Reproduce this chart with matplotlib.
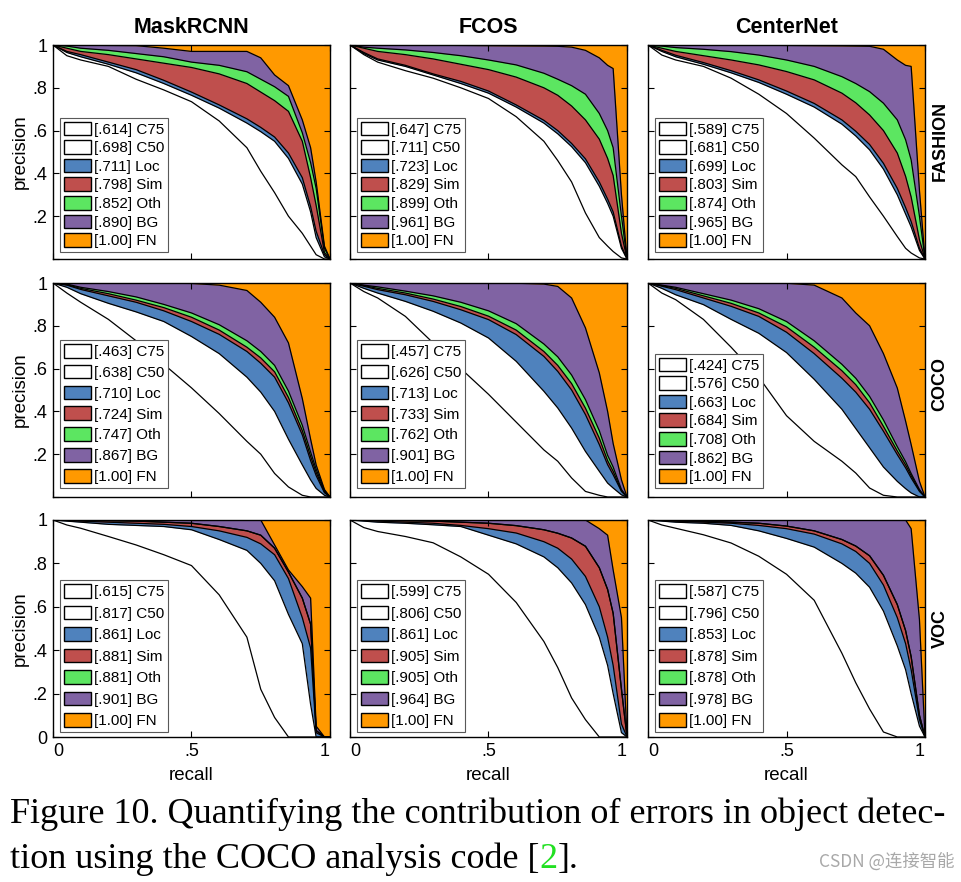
import matplotlib.pyplot as plt
from matplotlib.patches import Patch

plt.rcParams['font.family'] = ['Liberation Sans', 'DejaVu Sans']

recall = [0, .05, .1, .2, .3, .4, .5, .6, .7, .75, .8, .85, .9, .93, .95, .98, 1]

detectors = ['MaskRCNN', 'FCOS', 'CenterNet']
datasets = ['FASHION', 'COCO', 'VOC']
error_types = ['C75', 'C50', 'Loc', 'Sim', 'Oth', 'BG', 'FN']
colors = ['white', 'white', (.31, .51, .74), (.75, .31, .30),
          (.36, .90, .38), (.50, .39, .64), (1, .6, 0)]

# precision curves per panel: C75, C50, Loc, Sim, Oth, BG  (FN is 1 everywhere)
fashion_maskrcnn = [
    [1, .95, .93, .90, .84, .79, .735, .645, .52, .41, .31, .20, .12, .06, .02, 0, 0],
    [1, .965, .945, .91, .87, .82, .765, .705, .635, .595, .55, .47, .35, .22, .10, .01, 0],
    [1, .97, .955, .92, .885, .835, .78, .72, .655, .615, .57, .495, .38, .245, .13, .02, 0],
    [1, .985, .97, .955, .935, .915, .895, .865, .82, .78, .74, .69, .55, .38, .25, .03, 0],
    [1, .995, .985, .975, .96, .945, .92, .905, .875, .84, .805, .76, .59, .45, .33, .05, 0],
    [1, 1, .999, .998, .997, .985, .97, .97, .97, .94, .86, .81, .65, .52, .36, .06, 0],
]
fashion_fcos = [
    [1, .955, .92, .88, .845, .80, .75, .665, .55, .46, .36, .215, .10, .06, .035, .005, 0],
    [1, .96, .93, .90, .86, .82, .775, .71, .635, .585, .525, .45, .34, .26, .20, .05, 0],
    [1, .965, .935, .905, .865, .83, .785, .72, .648, .60, .54, .468, .36, .28, .22, .06, 0],
    [1, .985, .97, .955, .935, .91, .885, .85, .80, .765, .715, .65, .56, .47, .39, .12, 0],
    [1, .99, .985, .977, .965, .95, .93, .907, .868, .84, .81, .77, .68, .60, .52, .20, 0],
    [1, 1, 1, 1, .999, .998, .997, .996, .995, .994, .99, .975, .94, .905, .89, .30, 0],
]
fashion_centernet = [
    [1, .953, .93, .90, .845, .77, .68, .565, .44, .385, .29, .20, .105, .05, .028, .005, 0],
    [1, .97, .945, .91, .87, .825, .77, .71, .63, .575, .51, .42, .30, .21, .15, .04, 0],
    [1, .975, .952, .918, .88, .837, .785, .727, .65, .597, .535, .447, .33, .24, .175, .05, 0],
    [1, .985, .97, .95, .93, .907, .876, .837, .775, .73, .673, .60, .495, .386, .29, .09, 0],
    [1, .995, .988, .98, .969, .953, .93, .90, .852, .82, .782, .728, .65, .557, .463, .20, 0],
    [1, 1, 1, 1, 1, .999, .998, .997, .996, .995, .994, .98, .93, .905, .90, .32, 0],
]
coco_maskrcnn = [
    [1, .953, .91, .83, .73, .62, .51, .39, .26, .20, .11, .047, .008, 0, 0, 0, 0],
    [1, .98, .95, .905, .865, .82, .75, .67, .56, .49, .40, .27, .15, .08, .04, .008, 0],
    [1, .99, .97, .94, .91, .87, .82, .76, .68, .625, .56, .44, .29, .17, .10, .02, 0],
    [1, .992, .975, .95, .92, .885, .84, .78, .70, .65, .585, .465, .31, .19, .115, .025, 0],
    [1, .995, .98, .96, .935, .90, .86, .805, .73, .68, .615, .495, .335, .21, .13, .03, 0],
    [1, 1, 1, 1, 1, .999, .998, .99, .965, .91, .84, .72, .46, .27, .15, .035, 0],
]
coco_fcos = [
    [1, .96, .93, .844, .72, .60, .48, .35, .22, .167, .089, .026, .008, 0, 0, 0, 0],
    [1, .975, .953, .914, .868, .813, .743, .634, .494, .416, .322, .213, .12, .065, .042, .01, 0],
    [1, .985, .969, .945, .914, .875, .829, .759, .657, .587, .50, .385, .245, .151, .104, .026, 0],
    [1, .988, .975, .953, .925, .89, .845, .78, .68, .615, .53, .415, .275, .17, .12, .03, 0],
    [1, .99, .982, .962, .94, .91, .87, .81, .715, .655, .57, .455, .31, .195, .14, .035, 0],
    [1, 1, 1, 1, 1, 1, .999, .999, .995, .984, .93, .79, .58, .40, .25, .08, 0],
]
coco_centernet = [
    [1, .953, .922, .83, .70, .56, .38, .26, .167, .112, .042, .008, 0, 0, 0, 0, 0],
    [1, .975, .945, .899, .83, .765, .675, .55, .41, .32, .23, .14, .073, .039, .019, 0, 0],
    [1, .985, .969, .93, .891, .844, .77, .67, .555, .49, .41, .307, .198, .136, .089, .026, 0],
    [1, .988, .975, .94, .905, .86, .795, .70, .59, .525, .44, .33, .215, .15, .10, .03, 0],
    [1, .99, .98, .95, .92, .88, .82, .73, .62, .555, .47, .36, .235, .165, .11, .035, 0],
    [1, 1, 1, 1, 1, 1, .999, .99, .93, .86, .80, .67, .509, .354, .245, .073, 0],
]
voc_maskrcnn = [
    [1, .977, .962, .924, .885, .84, .79, .655, .46, .22, .09, 0, 0, 0, 0, 0, 0],
    [1, .995, .99, .98, .975, .97, .955, .91, .86, .80, .72, .565, .43, .15, 0, 0, 0],
    [1, .998, .995, .99, .985, .98, .97, .95, .92, .89, .84, .73, .55, .41, .02, 0, 0],
    [1, .999, .998, .997, .995, .99, .985, .97, .95, .93, .87, .76, .64, .52, .03, 0, 0],
    [1, .999, .998, .997, .995, .99, .985, .97, .95, .93, .87, .76, .64, .52, .03, 0, 0],
    [1, 1, 1, 1, 1, 1, 1, 1, 1, 1, .885, .77, .693, .64, .05, 0, 0],
]
voc_fcos = [
    [1, .965, .947, .924, .895, .83, .75, .62, .44, .32, .18, .08, 0, 0, 0, 0, 0],
    [1, .995, .99, .985, .978, .97, .93, .89, .83, .78, .71, .61, .46, .33, .20, .02, 0],
    [1, .998, .995, .99, .985, .975, .96, .94, .90, .87, .82, .74, .60, .46, .33, .06, 0],
    [1, .999, .998, .997, .995, .99, .985, .974, .955, .939, .917, .879, .78, .68, .57, .22, 0],
    [1, .999, .998, .997, .995, .99, .985, .974, .955, .939, .917, .879, .78, .68, .57, .22, 0],
    [1, 1, 1, 1, 1, 1, 1, 1, 1, 1, 1, 1, .96, .93, .77, .55, 0],
]
voc_centernet = [
    [1, .977, .962, .932, .894, .833, .75, .63, .386, .25, .129, .023, 0, 0, 0, 0, 0],
    [1, .995, .99, .985, .975, .95, .915, .875, .80, .755, .69, .58, .42, .31, .20, .05, 0],
    [1, .998, .995, .99, .985, .975, .96, .935, .89, .855, .80, .70, .55, .43, .31, .08, 0],
    [1, .999, .997, .994, .99, .985, .972, .95, .91, .88, .835, .745, .61, .49, .37, .10, 0],
    [1, .999, .997, .994, .99, .985, .972, .95, .91, .88, .835, .745, .61, .49, .37, .10, 0],
    [1, 1, 1, 1, 1, 1, 1, 1, 1, 1, 1, 1, 1, 1, .96, .54, 0],
]

# area under each curve, as printed in the legends
ap_fashion_maskrcnn = [.614, .698, .711, .798, .852, .890, 1.00]
ap_fashion_fcos = [.647, .711, .723, .829, .899, .961, 1.00]
ap_fashion_centernet = [.589, .681, .699, .803, .874, .965, 1.00]
ap_coco_maskrcnn = [.463, .638, .710, .724, .747, .867, 1.00]
ap_coco_fcos = [.457, .626, .713, .733, .762, .901, 1.00]
ap_coco_centernet = [.424, .576, .663, .684, .708, .862, 1.00]
ap_voc_maskrcnn = [.615, .817, .861, .881, .881, .901, 1.00]
ap_voc_fcos = [.599, .806, .861, .905, .905, .964, 1.00]
ap_voc_centernet = [.587, .796, .853, .878, .878, .978, 1.00]

panels = [
    [(fashion_maskrcnn, ap_fashion_maskrcnn), (fashion_fcos, ap_fashion_fcos),
     (fashion_centernet, ap_fashion_centernet)],
    [(coco_maskrcnn, ap_coco_maskrcnn), (coco_fcos, ap_coco_fcos),
     (coco_centernet, ap_coco_centernet)],
    [(voc_maskrcnn, ap_voc_maskrcnn), (voc_fcos, ap_voc_fcos),
     (voc_centernet, ap_voc_centernet)],
]


def fmt_ap(v):
    return '1.00' if v >= 1 else f'{v:.3f}'[1:]


# layout in pixels
W, H = 962, 882
col_left = [53, 350, 648]
ax_w = 277
row_top = [45, 283, 520]
row_bot = [259, 497, 737]
row_label_y = [141, 384, 628]
leg_bottom = [[7, 7, 7], [9, 9, 9], [5, 5, 5]]
leg_spacing = [[0.23, 0.23, 0.23], [0.38, 0.38, 0.23], [0.42, 0.42, 0.42]]

fig = plt.figure(figsize=(W / 100, H / 100), dpi=100)

for i, ds in enumerate(datasets):
    ax_h = row_bot[i] - row_top[i]
    for j, det in enumerate(detectors):
        curves, aps = panels[i][j]
        ax = fig.add_axes([col_left[j] / W, 1 - row_bot[i] / H, ax_w / W, ax_h / H])

        # FN area fills everything, then each curve from BG down to C75
        ax.fill_between([0, 1], [1, 1], color=colors[6], lw=0)
        for k in range(5, -1, -1):
            ax.fill_between(recall, curves[k], color=colors[k], lw=0)
            ax.plot(recall, curves[k], color='black', lw=0.9)

        ax.set_xlim(0, 1)
        ax.set_ylim(0, 1)
        ax.set_xticks([0, .5, 1])
        ax.set_yticks([0, .2, .4, .6, .8, 1])
        ax.tick_params(direction='in', top=True, right=True, length=4,
                       width=0.8, labelsize=13, pad=4)
        if j == 0:
            ylabs = ['0' if i == 2 else '', '.2', '.4', '.6', '.8', '1']
            ax.set_yticklabels(ylabs)
        else:
            ax.set_yticklabels([])
        if i == 2:
            xl = ax.set_xticklabels(['0', '.5', '1'])
            xl[0].set_ha('left')
            xl[2].set_ha('right')
        else:
            ax.set_xticklabels([])
        for sp in ax.spines.values():
            sp.set_linewidth(1.0)

        handles = [Patch(facecolor=colors[k], edgecolor='black', lw=1)
                   for k in range(7)]
        labels = [f'[{fmt_ap(aps[k])}] {error_types[k]}' for k in range(7)]
        leg = ax.legend(handles, labels, loc='lower left',
                        bbox_to_anchor=(7 / ax_w, leg_bottom[i][j] / ax_h),
                        borderaxespad=0, fontsize=11, handlelength=1.8,
                        handleheight=1.0, handletextpad=0.15, borderpad=0.25,
                        labelspacing=leg_spacing[i][j], fancybox=False,
                        edgecolor='0.35', framealpha=1)
        leg.get_frame().set_linewidth(0.8)

        if i == 0:
            fig.text((col_left[j] + ax_w / 2) / W, 1 - 27.5 / H, det,
                     ha='center', va='center', fontsize=15.5, fontweight='bold')
        if i == 2:
            fig.text((col_left[j] + ax_w / 2) / W, 1 - 776 / H, 'recall',
                     ha='center', va='center', fontsize=13.5)
        if j == 0:
            fig.text(20 / W, 1 - (row_top[i] + ax_h / 2) / H, 'precision',
                     ha='center', va='center', rotation=90, fontsize=13.5)
    fig.text(940 / W, 1 - row_label_y[i] / H, ds, ha='center',
             va='center', rotation=90, fontsize=13, fontweight='bold')

# caption
cap = fig.add_axes([0, 0, 1, 1])
cap.axis('off')
cap.patch.set_visible(False)
serif = ['Liberation Serif', 'DejaVu Serif']
cap_size = 26
cap.text(10 / W, 1 - 823 / H,
         'Figure 10. Quantifying the contribution of errors in object detec-',
         ha='left', va='baseline', fontsize=cap_size, family=serif)
t1 = cap.text(10 / W, 1 - 868 / H, 'tion using the COCO analysis code [',
              ha='left', va='baseline', fontsize=cap_size, family=serif)
t2 = cap.annotate('2', xy=(1, 0), xycoords=t1, ha='left', va='bottom',
                  fontsize=cap_size, family=serif, color='#22e022')
cap.annotate('].', xy=(1, 0), xycoords=t2, ha='left', va='bottom',
             fontsize=cap_size, family=serif)
cap.text(955 / W, 1 - 862 / H, 'CSDN @连接智能', ha='right', va='center',
         fontsize=12.5, color='#a8a8a8', family=['Noto Sans CJK SC', 'DejaVu Sans'])

fig.savefig('out.png', dpi=100)
